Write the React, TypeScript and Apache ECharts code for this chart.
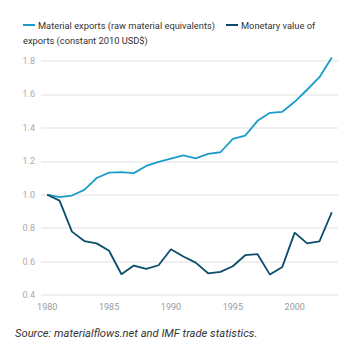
import React, { useEffect, useRef } from "react";
import * as echarts from "echarts";

const years = [
  "1980","1981","1982","1983","1984","1985","1986","1987","1988","1989","1990","1991",
  "1992","1993","1994","1995","1996","1997","1998","1999","2000","2001","2002","2003",
];
const materialExports = [
  1.0, 0.985, 0.995, 1.029, 1.1, 1.132, 1.135, 1.129, 1.172, 1.196, 1.216, 1.236,
  1.218, 1.244, 1.254, 1.334, 1.354, 1.442, 1.49, 1.496, 1.556, 1.628, 1.703, 1.821,
];
const monetaryValue = [
  1.0, 0.965, 0.779, 0.723, 0.709, 0.665, 0.524, 0.576, 0.556, 0.578, 0.674, 0.63,
  0.594, 0.53, 0.538, 0.572, 0.638, 0.644, 0.522, 0.568, 0.773, 0.709, 0.721, 0.895,
];
const seriesNames = [
  "Material exports (raw material equivalents)",
  "Monetary value of",
];
const legendContinuation = "exports (constant 2010 USD$)";
const sourceText = "Source: materialflows.net and IMF trade statistics.";

const LIGHT = "#1b9dcc";
const DARK = "#0b4d6c";
const FONT = "Roboto";

export default function App() {
  const ref = useRef<HTMLDivElement>(null);
  useEffect(() => {
    if (!ref.current) return;
    const chart = echarts.init(ref.current, undefined, { renderer: "svg" });
    chart.setOption({
      animation: false,
      textStyle: { fontFamily: FONT },
      grid: { left: 41, right: 19, top: 61, bottom: 56, containLabel: false },
      xAxis: {
        type: "category",
        data: years,
        boundaryGap: true,
        axisLine: { show: false },
        axisTick: { show: false },
        axisLabel: { interval: 4, color: "#9a9a9a", fontSize: 9, margin: 7, fontFamily: FONT },
      },
      yAxis: {
        type: "value",
        min: 0.4,
        max: 1.8,
        interval: 0.2,
        axisLabel: {
          color: "#aaaaaa",
          fontSize: 9,
          margin: 6,
          fontFamily: FONT,
          formatter: (v: number) => v.toFixed(1),
        },
        splitLine: { lineStyle: { color: "#ebebeb", width: 1.5 } },
        axisLine: { show: false },
        axisTick: { show: false },
      },
      series: [
        {
          name: seriesNames[0],
          type: "line",
          data: materialExports,
          showSymbol: false,
          clip: false,
          lineStyle: { color: LIGHT, width: 1.8 },
          itemStyle: { color: LIGHT },
          z: 3,
        },
        {
          name: seriesNames[1],
          type: "line",
          data: monetaryValue,
          showSymbol: false,
          clip: false,
          lineStyle: { color: DARK, width: 1.8 },
          itemStyle: { color: DARK },
          z: 4,
        },
      ],
      graphic: [
        { type: "rect", shape: { x: 23, y: 24, width: 12, height: 2 }, style: { fill: LIGHT } },
        {
          type: "text",
          x: 38,
          y: 25,
          style: { text: seriesNames[0], fill: "#333333", font: `9.3px ${FONT}`, verticalAlign: "middle" },
        },
        { type: "rect", shape: { x: 226, y: 24, width: 12, height: 2 }, style: { fill: DARK } },
        {
          type: "text",
          x: 241,
          y: 25,
          style: { text: seriesNames[1], fill: "#333333", font: `9.3px ${FONT}`, verticalAlign: "middle" },
        },
        {
          type: "text",
          x: 23,
          y: 40,
          style: { text: legendContinuation, fill: "#333333", font: `9.3px ${FONT}`, verticalAlign: "middle" },
        },
        {
          type: "text",
          x: 15,
          y: 333,
          style: { text: sourceText, fill: "#333333", font: `italic 11.2px ${FONT}`, verticalAlign: "middle" },
        },
      ],
    });
    return () => chart.dispose();
  }, []);
  return <div ref={ref} style={{ width: 357, height: 351, position: "absolute", left: 0, top: 0 }} />;
}
